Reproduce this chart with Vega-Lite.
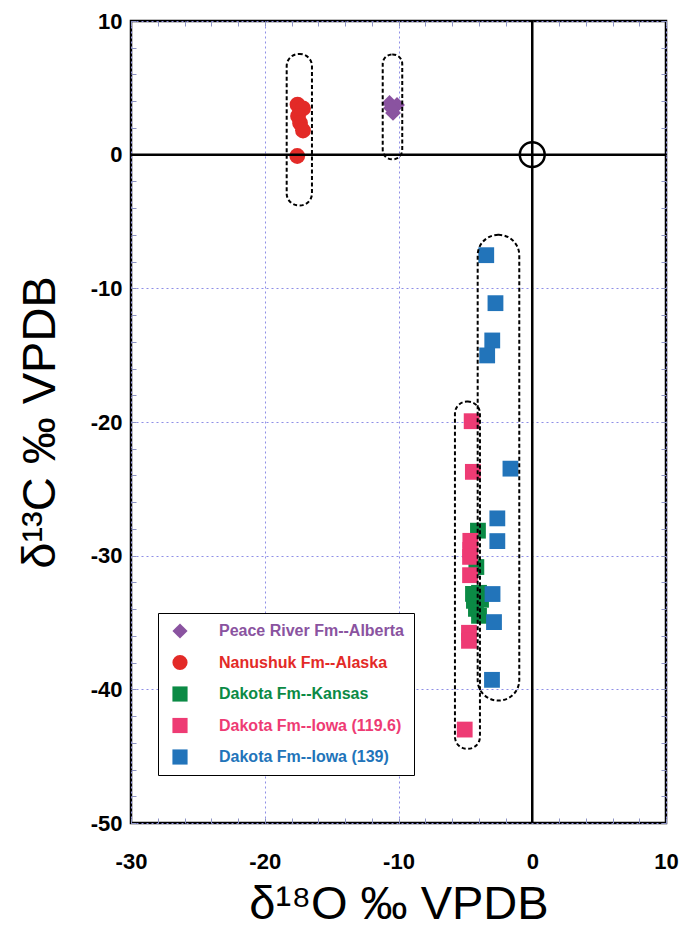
{
  "$schema": "https://vega.github.io/schema/vega-lite/v6.json",
  "width": 535,
  "height": 802,
  "autosize": {"type": "none"},
  "padding": {"left": 131, "top": 21, "right": 19, "bottom": 112},
  "background": "white",
  "config": {
    "view": {"stroke": "black", "strokeWidth": 2.5},
    "font": "Liberation Sans",
    "axis": {
      "labelFont": "Liberation Sans",
      "titleFont": "Liberation Sans",
      "labelFontWeight": "bold",
      "labelFontSize": 22,
      "labelColor": "black",
      "titleColor": "black",
      "titleFontWeight": "normal",
      "titleFontSize": 47
    }
  },
  "datasets": {
    "pts": [
      {"series": "Peace River Fm--Alberta", "d18O": -10.67, "d13C": 3.87},
      {"series": "Peace River Fm--Alberta", "d18O": -10.11, "d13C": 3.72},
      {"series": "Peace River Fm--Alberta", "d18O": -10.41, "d13C": 3.12},
      {"series": "Peace River Fm--Alberta", "d18O": -10.56, "d13C": 3.49},
      {"series": "Nanushuk Fm--Alaska", "d18O": -17.55, "d13C": 3.75},
      {"series": "Nanushuk Fm--Alaska", "d18O": -17.14, "d13C": 3.46},
      {"series": "Nanushuk Fm--Alaska", "d18O": -17.51, "d13C": 2.89},
      {"series": "Nanushuk Fm--Alaska", "d18O": -17.36, "d13C": 2.37},
      {"series": "Nanushuk Fm--Alaska", "d18O": -17.14, "d13C": 1.81},
      {"series": "Nanushuk Fm--Alaska", "d18O": -17.57, "d13C": -0.10},
      {"series": "Dakota Fm--Kansas", "d18O": -4.06, "d13C": -28.13},
      {"series": "Dakota Fm--Kansas", "d18O": -4.18, "d13C": -30.85},
      {"series": "Dakota Fm--Kansas", "d18O": -3.98, "d13C": -32.78},
      {"series": "Dakota Fm--Kansas", "d18O": -4.36, "d13C": -33.38},
      {"series": "Dakota Fm--Kansas", "d18O": -4.21, "d13C": -33.98},
      {"series": "Dakota Fm--Kansas", "d18O": -3.98, "d13C": -34.50},
      {"series": "Dakota Fm--Kansas", "d18O": -3.83, "d13C": -33.30},
      {"series": "Dakota Fm--Kansas", "d18O": -4.43, "d13C": -32.86},
      {"series": "Dakota Fm--Iowa (119.6)", "d18O": -4.53, "d13C": -19.94},
      {"series": "Dakota Fm--Iowa (119.6)", "d18O": -4.44, "d13C": -23.73},
      {"series": "Dakota Fm--Iowa (119.6)", "d18O": -4.63, "d13C": -28.89},
      {"series": "Dakota Fm--Iowa (119.6)", "d18O": -4.63, "d13C": -29.57},
      {"series": "Dakota Fm--Iowa (119.6)", "d18O": -4.65, "d13C": -30.09},
      {"series": "Dakota Fm--Iowa (119.6)", "d18O": -4.65, "d13C": -31.46},
      {"series": "Dakota Fm--Iowa (119.6)", "d18O": -4.73, "d13C": -35.77},
      {"series": "Dakota Fm--Iowa (119.6)", "d18O": -4.73, "d13C": -36.37},
      {"series": "Dakota Fm--Iowa (119.6)", "d18O": -5.05, "d13C": -43.01},
      {"series": "Dakota Fm--Iowa (139)", "d18O": -3.44, "d13C": -7.52},
      {"series": "Dakota Fm--Iowa (139)", "d18O": -2.75, "d13C": -11.11},
      {"series": "Dakota Fm--Iowa (139)", "d18O": -2.99, "d13C": -13.90},
      {"series": "Dakota Fm--Iowa (139)", "d18O": -3.37, "d13C": -15.02},
      {"series": "Dakota Fm--Iowa (139)", "d18O": -1.63, "d13C": -23.49},
      {"series": "Dakota Fm--Iowa (139)", "d18O": -2.61, "d13C": -27.21},
      {"series": "Dakota Fm--Iowa (139)", "d18O": -2.61, "d13C": -28.91},
      {"series": "Dakota Fm--Iowa (139)", "d18O": -2.97, "d13C": -32.87},
      {"series": "Dakota Fm--Iowa (139)", "d18O": -2.86, "d13C": -34.97},
      {"series": "Dakota Fm--Iowa (139)", "d18O": -3.01, "d13C": -39.29}
    ],
    "origin": [{"d18O": 0, "d13C": 0}],
    "env": [
      {"group": "Nanushuk", "x1": -18.36, "x2": -16.47, "y1": -3.8, "y2": 7.53},
      {"group": "Iowa 119.6", "x1": -5.78, "x2": -3.91, "y1": -44.45, "y2": -18.47},
      {"group": "Peace River", "x1": -11.18, "x2": -9.72, "y1": -0.35, "y2": 7.5},
      {"group": "Iowa 139", "x1": -4.08, "x2": -0.97, "y1": -40.84, "y2": -6.0}
    ]
  },
  "resolve": {"axis": {"x": "independent", "y": "independent"}},
  "layer": [
    {
      "data": {"name": "pts"},
      "mark": {"type": "point", "filled": true, "opacity": 1, "size": 250},
      "encoding": {
        "x": {
          "field": "d18O", "type": "quantitative",
          "scale": {"domain": [-30, 10], "nice": false, "zero": false},
          "axis": {
            "orient": "bottom", "values": [-30, -20, -10, 0, 10], "ticks": false, "domain": false,
            "labelExpr": "'' + datum.value",
            "labelPadding": 28, "labelFlush": false, "grid": true, "gridColor": "#8e8ee6",
            "gridDash": [2, 3], "gridWidth": 1, "title": "δ¹⁸O ‰ VPDB", "titlePadding": 9
          }
        },
        "y": {
          "field": "d13C", "type": "quantitative",
          "scale": {"domain": [-50, 10], "nice": false, "zero": false},
          "axis": {
            "orient": "left", "values": [-50, -40, -30, -20, -10, 0, 10], "ticks": false, "domain": false,
            "labelExpr": "'' + datum.value",
            "labelPadding": 9, "labelFlush": false, "grid": true, "gridColor": "#8e8ee6",
            "gridDash": [2, 3], "gridWidth": 1, "title": "δ¹³C ‰ VPDB", "titlePadding": 26
          }
        },
        "color": {
          "field": "series", "type": "nominal",
          "scale": {
            "domain": ["Peace River Fm--Alberta", "Nanushuk Fm--Alaska", "Dakota Fm--Kansas", "Dakota Fm--Iowa (119.6)", "Dakota Fm--Iowa (139)"],
            "range": ["#8a53a0", "#e32a27", "#0b8a45", "#ee3b74", "#2274ba"]
          },
          "legend": {
            "orient": "none", "legendX": 27, "legendY": 592, "title": null, "padding": 10,
            "symbolOffset": 4, "labelOffset": 31, "rowPadding": 15.5, "labelFont": "Liberation Sans",
            "labelFontWeight": "bold", "labelFontSize": 16, "strokeColor": "black", "fillColor": "white",
            "symbolSize": 230, "symbolStrokeWidth": 0, "labelLimit": 400,
            "labelColor": {"expr": "scale('color', datum.value)"},
            "encode": {
              "legend": {"update": {"strokeWidth": {"value": 2}}}
            }
          }
        },
        "shape": {
          "field": "series", "type": "nominal",
          "scale": {
            "domain": ["Peace River Fm--Alberta", "Nanushuk Fm--Alaska", "Dakota Fm--Kansas", "Dakota Fm--Iowa (119.6)", "Dakota Fm--Iowa (139)"],
            "range": ["diamond", "circle", "square", "square", "square"]
          },
          "legend": {
            "orient": "none", "legendX": 27, "legendY": 592, "title": null, "padding": 10,
            "symbolOffset": 4, "labelOffset": 31, "rowPadding": 15.5, "labelFont": "Liberation Sans",
            "labelFontWeight": "bold", "labelFontSize": 16, "strokeColor": "black", "fillColor": "white",
            "symbolSize": 230, "symbolStrokeWidth": 0, "labelLimit": 400,
            "labelColor": {"expr": "scale('color', datum.value)"},
            "encode": {
              "legend": {"update": {"strokeWidth": {"value": 2}}}
            }
          }
        }
      }
    },
    {
      "data": {"values": [{"v": 0}]},
      "mark": {"type": "rule", "color": "black", "strokeWidth": 2.5},
      "encoding": {
        "x": {"field": "v", "type": "quantitative", "scale": {"domain": [-30, 10], "nice": false, "zero": false}, "axis": null}
      }
    },
    {
      "data": {"values": [{"v": 0}]},
      "mark": {"type": "rule", "color": "black", "strokeWidth": 2.5},
      "encoding": {
        "y": {"field": "v", "type": "quantitative", "scale": {"domain": [-50, 10], "nice": false, "zero": false}, "axis": null}
      }
    },
    {
      "data": {"name": "origin"},
      "mark": {"type": "point", "shape": "circle", "filled": false, "stroke": "black", "strokeWidth": 2.5, "size": 620, "opacity": 1},
      "encoding": {
        "x": {
          "field": "d18O", "type": "quantitative",
          "scale": {"domain": [-30, 10], "nice": false, "zero": false},
          "axis": {
            "orient": "top", "values": [-30,-28,-26,-24,-22,-20,-18,-16,-14,-12,-10,-8,-6,-4,-2,0,2,4,6,8,10],
            "labels": false, "domain": false, "grid": false, "ticks": true, "tickSize": 5,
            "tickColor": "#8f95c4", "tickWidth": 1, "offset": -5, "title": null
          }
        },
        "y": {
          "field": "d13C", "type": "quantitative",
          "scale": {"domain": [-50, 10], "nice": false, "zero": false},
          "axis": {
            "orient": "right", "values": [-50,-48,-46,-44,-42,-40,-38,-36,-34,-32,-30,-28,-26,-24,-22,-20,-18,-16,-14,-12,-10,-8,-6,-4,-2,0,2,4,6,8,10],
            "labels": false, "domain": false, "grid": false, "ticks": true, "tickSize": 5,
            "tickColor": "#8f95c4", "tickWidth": 1, "offset": -5, "title": null
          }
        }
      }
    },
    {
      "data": {"name": "env"},
      "transform": [{"filter": "datum.group === 'Nanushuk' || datum.group === 'Iowa 119.6'"}],
      "mark": {"type": "rect", "filled": false, "stroke": "black", "strokeWidth": 2, "strokeDash": [4, 2.5], "cornerRadius": 12},
      "encoding": {
        "x": {
          "field": "x1", "type": "quantitative",
          "scale": {"domain": [-30, 10], "nice": false, "zero": false},
          "axis": {
            "orient": "bottom", "values": [-30,-28,-26,-24,-22,-20,-18,-16,-14,-12,-10,-8,-6,-4,-2,0,2,4,6,8,10],
            "labels": false, "domain": false, "grid": false, "ticks": true, "tickSize": 5,
            "tickColor": "#8f95c4", "tickWidth": 1, "offset": -5, "title": null
          }
        },
        "x2": {"field": "x2"},
        "y": {
          "field": "y1", "type": "quantitative",
          "scale": {"domain": [-50, 10], "nice": false, "zero": false},
          "axis": {
            "orient": "left", "values": [-50,-48,-46,-44,-42,-40,-38,-36,-34,-32,-30,-28,-26,-24,-22,-20,-18,-16,-14,-12,-10,-8,-6,-4,-2,0,2,4,6,8,10],
            "labels": false, "domain": false, "grid": false, "ticks": true, "tickSize": 5,
            "tickColor": "#8f95c4", "tickWidth": 1, "offset": -5, "title": null
          }
        },
        "y2": {"field": "y2"}
      }
    },
    {
      "data": {"name": "env"},
      "transform": [{"filter": "datum.group === 'Peace River'"}],
      "mark": {"type": "rect", "filled": false, "stroke": "black", "strokeWidth": 2, "strokeDash": [4, 2.5], "cornerRadius": 9.5},
      "encoding": {
        "x": {"field": "x1", "type": "quantitative", "scale": {"domain": [-30, 10], "nice": false, "zero": false}, "axis": null},
        "x2": {"field": "x2"},
        "y": {"field": "y1", "type": "quantitative", "scale": {"domain": [-50, 10], "nice": false, "zero": false}, "axis": null},
        "y2": {"field": "y2"}
      }
    },
    {
      "data": {"name": "env"},
      "transform": [{"filter": "datum.group === 'Iowa 139'"}],
      "mark": {"type": "rect", "filled": false, "stroke": "black", "strokeWidth": 2, "strokeDash": [4, 2.5], "cornerRadius": 20.5},
      "encoding": {
        "x": {"field": "x1", "type": "quantitative", "scale": {"domain": [-30, 10], "nice": false, "zero": false}, "axis": null},
        "x2": {"field": "x2"},
        "y": {"field": "y1", "type": "quantitative", "scale": {"domain": [-50, 10], "nice": false, "zero": false}, "axis": null},
        "y2": {"field": "y2"}
      }
    }
  ]
}
